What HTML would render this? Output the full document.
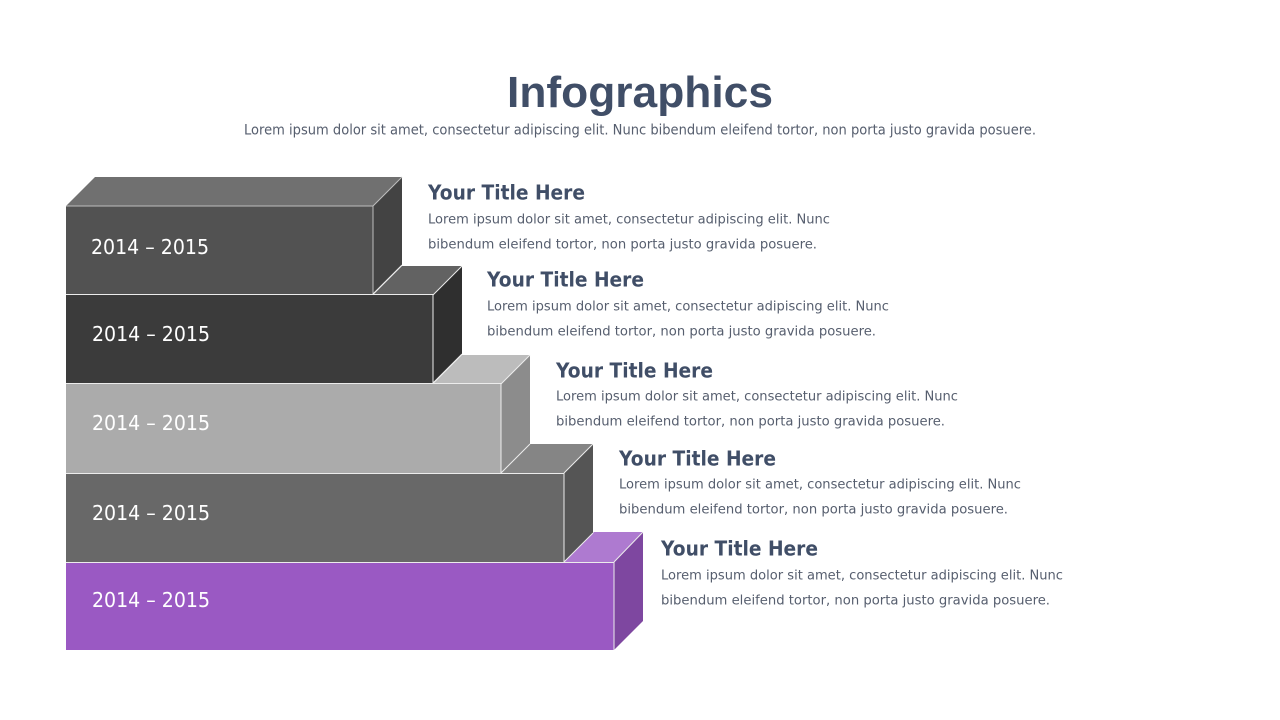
<!DOCTYPE html>
<html><head><meta charset="utf-8"><style>
html,body{margin:0;padding:0;background:#fff}
svg{display:block}
text{font-family:"DejaVu Sans","Liberation Sans",sans-serif}
.t{font-weight:700;font-size:20px;fill:#404e67}
.b{font-size:13.5px;fill:#565e6e}
.y{font-size:20.5px;fill:#fff}
.e{fill:none;stroke:#ececec;stroke-width:1}
</style></head><body>
<svg width="1280" height="720" viewBox="0 0 1280 720" xmlns="http://www.w3.org/2000/svg">
<rect width="1280" height="720" fill="#fff"/>
<text x="640" y="107" text-anchor="middle" textLength="266" lengthAdjust="spacingAndGlyphs" style="font-family:'Liberation Sans',sans-serif;font-weight:700;font-size:44px;fill:#404e67">Infographics</text>
<text x="640" y="134.5" text-anchor="middle" textLength="792" lengthAdjust="spacingAndGlyphs" class="b" style="font-size:14px">Lorem ipsum dolor sit amet, consectetur adipiscing elit. Nunc bibendum eleifend tortor, non porta justo gravida posuere.</text>

<polygon points="66,206 95,177 402,177 373,206" fill="#707070"/>
<polygon points="373,206 402,177 402,265 373,294" fill="#434343"/>
<rect x="66" y="206" width="307" height="88" fill="#525252"/>
<path d="M66 206H373V294M373 206L402 177" class="e" style="stroke:#bdbdbd"/>

<polygon points="373,295 402,266 462,266 433,295" fill="#626262"/>
<polygon points="433,295 462,266 462,354 433,383" fill="#2f2f2f"/>
<rect x="66" y="295" width="367" height="88" fill="#3b3b3b"/>
<path d="M66 294.5H433V383M433 295L462 266M373 294L402 265" class="e"/>

<polygon points="433,384 462,355 530,355 501,384" fill="#bcbcbc"/>
<polygon points="501,384 530,355 530,444 501,473" fill="#8c8c8c"/>
<rect x="66" y="384" width="435" height="89" fill="#ababab"/>
<path d="M66 383.5H501V473M501 384L530 355M433 383L462 354" class="e"/>

<polygon points="501,473 530,444 593,444 564,473" fill="#858585"/>
<polygon points="564,473 593,444 593,533 564,562" fill="#555555"/>
<rect x="66" y="473" width="498" height="89" fill="#686868"/>
<path d="M66 473.5H564V562M564 473L593 444M501 473L530 444" class="e"/>

<polygon points="564,562 594,532 643,532 614,562" fill="#ae7ad0"/>
<polygon points="614,562 643,532 643,621 614,650" fill="#7e47a0"/>
<rect x="66" y="562" width="548" height="88" fill="#9a59c3"/>
<path d="M66 562.5H614V650M614 562L643 532M564 562L593 533" class="e"/>

<text class="y" x="91" y="254" textLength="118" lengthAdjust="spacingAndGlyphs">2014 – 2015</text>
<text class="y" x="92" y="341" textLength="118" lengthAdjust="spacingAndGlyphs">2014 – 2015</text>
<text class="y" x="92" y="430" textLength="118" lengthAdjust="spacingAndGlyphs">2014 – 2015</text>
<text class="y" x="92" y="520" textLength="118" lengthAdjust="spacingAndGlyphs">2014 – 2015</text>
<text class="y" x="92" y="607" textLength="118" lengthAdjust="spacingAndGlyphs">2014 – 2015</text>

<text class="t" x="428" y="199.5" textLength="157" lengthAdjust="spacingAndGlyphs">Your Title Here</text>
<text class="b" x="428" y="223.7" textLength="402" lengthAdjust="spacingAndGlyphs">Lorem ipsum dolor sit amet, consectetur adipiscing elit. Nunc</text>
<text class="b" x="428" y="248.7" textLength="389" lengthAdjust="spacingAndGlyphs">bibendum eleifend tortor, non porta justo gravida posuere.</text>

<text class="t" x="487" y="286.5" textLength="157" lengthAdjust="spacingAndGlyphs">Your Title Here</text>
<text class="b" x="487" y="310.7" textLength="402" lengthAdjust="spacingAndGlyphs">Lorem ipsum dolor sit amet, consectetur adipiscing elit. Nunc</text>
<text class="b" x="487" y="335.7" textLength="389" lengthAdjust="spacingAndGlyphs">bibendum eleifend tortor, non porta justo gravida posuere.</text>

<text class="t" x="556" y="377.5" textLength="157" lengthAdjust="spacingAndGlyphs">Your Title Here</text>
<text class="b" x="556" y="400.7" textLength="402" lengthAdjust="spacingAndGlyphs">Lorem ipsum dolor sit amet, consectetur adipiscing elit. Nunc</text>
<text class="b" x="556" y="425.7" textLength="389" lengthAdjust="spacingAndGlyphs">bibendum eleifend tortor, non porta justo gravida posuere.</text>

<text class="t" x="619" y="465.5" textLength="157" lengthAdjust="spacingAndGlyphs">Your Title Here</text>
<text class="b" x="619" y="488.7" textLength="402" lengthAdjust="spacingAndGlyphs">Lorem ipsum dolor sit amet, consectetur adipiscing elit. Nunc</text>
<text class="b" x="619" y="513.7" textLength="389" lengthAdjust="spacingAndGlyphs">bibendum eleifend tortor, non porta justo gravida posuere.</text>

<text class="t" x="661" y="555.5" textLength="157" lengthAdjust="spacingAndGlyphs">Your Title Here</text>
<text class="b" x="661" y="579.7" textLength="402" lengthAdjust="spacingAndGlyphs">Lorem ipsum dolor sit amet, consectetur adipiscing elit. Nunc</text>
<text class="b" x="661" y="604.7" textLength="389" lengthAdjust="spacingAndGlyphs">bibendum eleifend tortor, non porta justo gravida posuere.</text>
</svg>
</body></html>
